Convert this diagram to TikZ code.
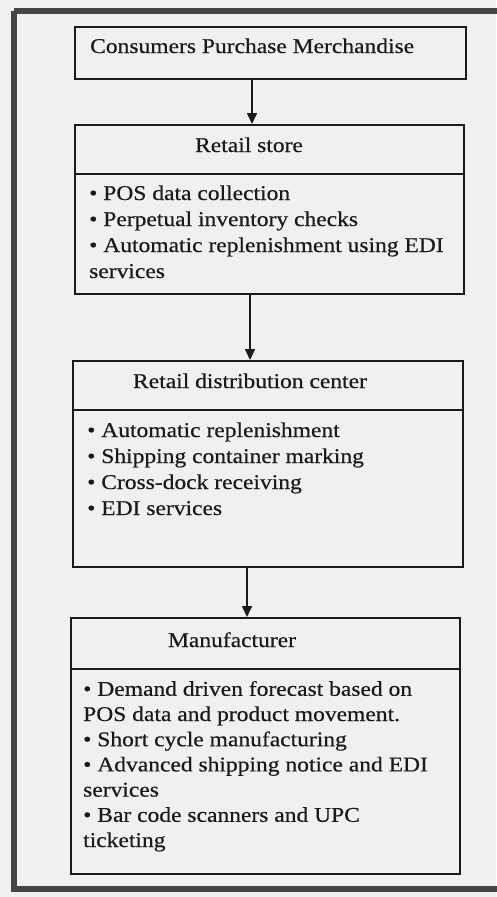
\documentclass[tikz,border=0pt]{standalone}
\usepackage{fontspec}
\usetikzlibrary{arrows.meta}
\newfontfamily\bodyfont[FakeStretch=1.12, FakeBold=0.45]{Liberation Serif}
\definecolor{paper}{HTML}{F0F0F0}
\definecolor{ink}{HTML}{1A1A1A}
\definecolor{frame}{HTML}{454545}
\tikzset{
  panel/.style={draw=ink, line width=1.6pt, rectangle, inner sep=0pt, anchor=north west},
  divider/.style={draw=ink, line width=1.4pt},
  flow/.style={draw=ink, line width=1.6pt, -{Triangle[width=10pt,length=11pt]}},
  txt/.style={text=ink, inner sep=0pt, font=\bodyfont\fontsize{21}{26}\selectfont},
  heading/.style={txt, anchor=base},
  % multi-line lists are placed by the baseline of their last line
  items/.style={txt, anchor=base west, align=left}
}
\begin{document}
\begin{tikzpicture}[x=1pt, y=-1pt]
  % page and outer frame
  \fill[paper] (0,0) rectangle (496,897);
  \useasboundingbox (0,0) rectangle (496,897);
  \draw[frame, line width=6.5pt] (14,11) -- (502,11);
  \draw[frame, line width=6.5pt] (14,11) -- (14,889) -- (502,889);

  % boxes
  \node[panel, minimum width=391pt, minimum height=52pt] (cpm) at (74,26) {};
  \node[panel, minimum width=389pt, minimum height=169pt] (rs) at (74,124) {};
  \node[panel, minimum width=390pt, minimum height=206pt] (rdc) at (72,360) {};
  \node[panel, minimum width=389pt, minimum height=256pt] (mfr) at (70,617) {};

  % header dividers
  \draw[divider] (rs.west |- 0,174) -- (rs.east |- 0,174);
  \draw[divider] (rdc.west |- 0,410) -- (rdc.east |- 0,410);
  \draw[divider] (mfr.west |- 0,669) -- (mfr.east |- 0,669);

  % texts
  \node[items] (cpmt) at (90,53) {Consumers Purchase Merchandise};

  \node[heading] (rsh) at (249,152) {Retail store};
  \node[items] (rsl) at (89,278) {\textbullet\ POS data collection\\
    \textbullet\ Perpetual inventory checks\\
    \textbullet\ Automatic replenishment using EDI\\
    services};

  \node[heading] (rdch) at (250,388) {Retail distribution center};
  \node[items] (rdcl) at (87,515) {\textbullet\ Automatic replenishment\\
    \textbullet\ Shipping container marking\\
    \textbullet\ Cross-dock receiving\\
    \textbullet\ EDI services};

  \node[heading] (mfrh) at (232,647) {Manufacturer};
  \node[items, font=\bodyfont\fontsize{21}{25.2}\selectfont] (mfrl) at (83,847) {\textbullet\ Demand driven forecast based on\\
    POS data and product movement.\\
    \textbullet\ Short cycle manufacturing\\
    \textbullet\ Advanced shipping notice and EDI\\
    services\\
    \textbullet\ Bar code scanners and UPC\\
    ticketing};

  % connectors
  \draw[flow] (cpm.south -| 252,0) -- (rs.north -| 252,0);
  \draw[flow] (rs.south -| 250,0) -- (rdc.north -| 250,0);
  \draw[flow] (rdc.south -| 247,0) -- (mfr.north -| 247,0);
\end{tikzpicture}
\end{document}
